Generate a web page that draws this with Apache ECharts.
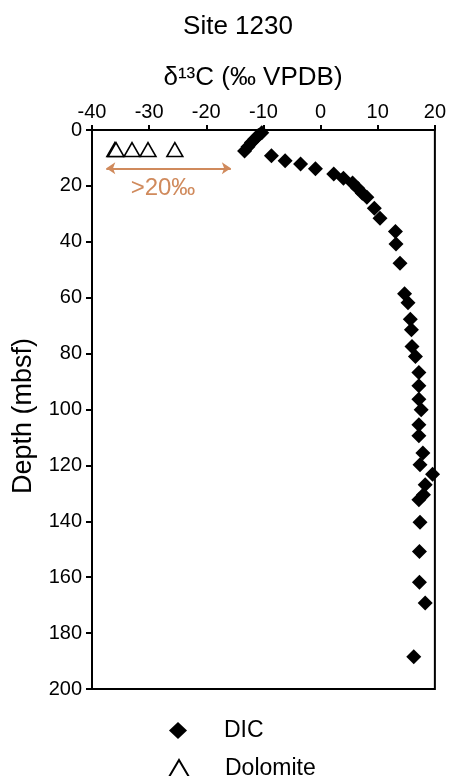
<!DOCTYPE html>
<html>
<head>
<meta charset="utf-8">
<script src="https://cdn.jsdelivr.net/npm/echarts@6/dist/echarts.min.js"></script>
<style>
html,body{margin:0;padding:0;background:#fff;}
#chart{width:449px;height:776px;}
</style>
</head>
<body>
<div id="chart"></div>
<script>
// DIC: [δ13C (‰ VPDB), depth (mbsf)]
const dicD13C = [-10.3,-10.9,-11.5,-12.1,-12.7,-13.3,-8.6,-6.2,-3.5,-0.9,2.3,4.0,5.6,6.5,7.3,8.1,9.4,10.4,13.1,13.2,13.9,14.7,15.3,15.7,15.9,16.0,16.6,17.2,17.2,17.2,17.6,17.2,17.2,17.9,17.4,19.6,18.3,18.0,17.2,17.4,17.3,17.3,18.3,16.3];
const dicDepth = [1.0,2.0,3.2,4.5,6.0,7.5,9.2,11.0,12.2,13.9,15.7,17.3,19.0,20.8,22.6,24.1,28.0,31.6,36.3,40.8,47.7,58.6,61.8,67.7,71.5,77.5,81.0,86.8,91.5,96.3,100.1,105.5,109.4,115.6,119.8,123.2,126.9,130.5,132.3,140.3,150.8,161.8,169.2,188.5];
// Dolomite
const dolD13C = [-36.0,-35.8,-33.0,-30.2,-25.5];
const dolDepth = [7.0,7.0,7.0,7.0,7.0];
// annotation arrow (>20‰ offset)
const arrowX = [-37.5,-15.7];
const arrowDepth = 13.7;
const xTicks = {min:-40,max:20,interval:10};
const yTicks = {min:0,max:200,interval:20};

const FONT = "'Liberation Sans', Arial, sans-serif";
const ORANGE = '#D08A5C';

const chart = echarts.init(document.getElementById('chart'), null, {renderer:'canvas'});
const dicData = dicD13C.map((v,i)=>[v,dicDepth[i]]);
const dolData = dolD13C.map((v,i)=>[v,dolDepth[i]]);

chart.setOption({
  animation:false,
  backgroundColor:'#fff',
  textStyle:{fontFamily:FONT,color:'#000'},
  grid:{left:92,right:12,top:130,bottom:87,show:true,borderColor:'#000',borderWidth:2,backgroundColor:'transparent'},
  xAxis:{
    type:'value',position:'top',min:xTicks.min,max:xTicks.max,interval:xTicks.interval,
    axisLine:{show:true,onZero:false,lineStyle:{color:'#000',width:2}},
    axisTick:{show:true,inside:false,length:5,lineStyle:{color:'#000',width:2}},
    axisLabel:{fontSize:20,color:'#000',fontFamily:FONT,margin:8},
    splitLine:{show:false}
  },
  yAxis:{
    type:'value',inverse:true,min:yTicks.min,max:yTicks.max,interval:yTicks.interval,
    axisLine:{show:true,onZero:false,lineStyle:{color:'#000',width:2}},
    axisTick:{show:true,inside:false,length:6,lineStyle:{color:'#000',width:2}},
    axisLabel:{fontSize:20,color:'#000',fontFamily:FONT,margin:10},
    splitLine:{show:false}
  },
  legend:[
    {data:['DIC'],left:169,top:719,padding:0,itemWidth:18,itemHeight:17,
     textStyle:{fontSize:23,color:'#000',fontFamily:FONT,padding:[0,0,0,32]}},
    {data:['Dolomite'],left:168,top:757,padding:0,itemWidth:20,itemHeight:17,
     textStyle:{fontSize:23,color:'#000',fontFamily:FONT,padding:[0,0,0,31]}}
  ],
  graphic:[
    {type:'text',x:238,y:27,style:{text:'Site 1230',fontSize:26,fontFamily:FONT,fill:'#000',align:'center',verticalAlign:'middle'}},
    {type:'text',x:253,y:78,style:{text:'δ¹³C (‰ VPDB)',fontSize:26,fontFamily:FONT,fill:'#000',align:'center',verticalAlign:'middle'}},
    {type:'text',x:24,y:416,rotation:Math.PI/2,style:{text:'Depth (mbsf)',fontSize:27,fontFamily:FONT,fill:'#000',align:'center',verticalAlign:'middle'}},
    {type:'text',x:163,y:188,style:{text:'>20‰',fontSize:24,fontFamily:FONT,fill:ORANGE,align:'center',verticalAlign:'middle'}}
  ],
  series:[
    {name:'DIC',type:'scatter',symbol:'diamond',symbolSize:15,data:dicData,
     itemStyle:{color:'#000',opacity:1},z:3},
    {name:'Dolomite',type:'scatter',symbol:'triangle',symbolSize:[16,14],data:dolData,
     itemStyle:{color:'#fff',borderColor:'#000',borderWidth:1.5,opacity:1},z:2,
     markLine:{silent:true,symbol:['arrow','arrow'],symbolSize:[9,9],
       label:{show:false},
       lineStyle:{color:ORANGE,width:2,type:'solid'},
       data:[[{coord:[arrowX[0],arrowDepth]},{coord:[arrowX[1],arrowDepth]}]]}}
  ]
});
</script>
</body>
</html>
